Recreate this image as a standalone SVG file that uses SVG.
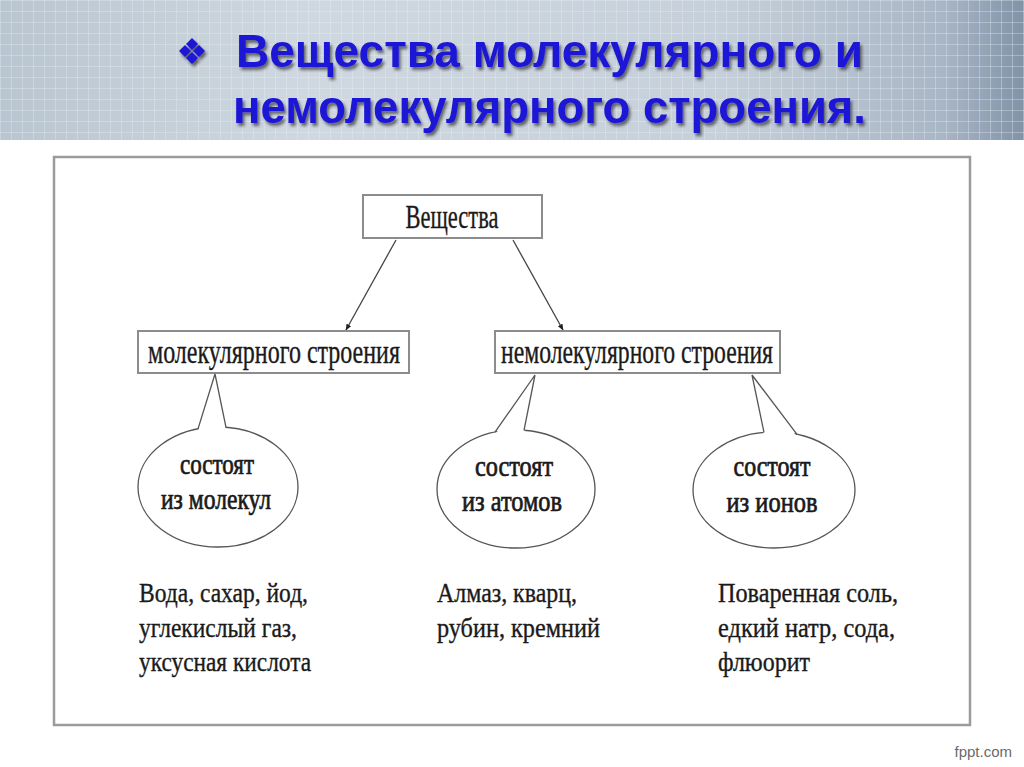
<svg xmlns="http://www.w3.org/2000/svg" width="1024" height="767" viewBox="0 0 1024 767">
<defs>
<linearGradient id="hdr" x1="0" y1="0" x2="1" y2="0">
<stop offset="0" stop-color="#b9c5d0"/>
<stop offset="0.3" stop-color="#cfd8e0"/>
<stop offset="0.7" stop-color="#c6d0da"/>
<stop offset="0.92" stop-color="#a9b6c5"/>
<stop offset="1" stop-color="#8293a8"/>
</linearGradient>
<pattern id="grid" width="11" height="11" patternUnits="userSpaceOnUse">
<path d="M0 0.5H11M0.5 0V11" stroke="#e8eef3" stroke-width="1" opacity="0.35" fill="none"/>
</pattern>
<filter id="sh" x="-5%" y="-20%" width="110%" height="140%">
<feDropShadow dx="2" dy="3" stdDeviation="1.5" flood-color="#222" flood-opacity="0.65"/>
</filter>
<marker id="ah" viewBox="0 0 10 10" refX="9" refY="5" markerWidth="5" markerHeight="5" orient="auto">
<path d="M0 1L10 5L0 9z" fill="#222"/>
</marker>
<style>
.t{font-family:"Liberation Serif","Times New Roman",serif;fill:#1a1a1a;stroke:#1a1a1a;stroke-width:0.35}
.b{stroke-width:0.7}
.box{fill:#fff;stroke:#8c8c8c;stroke-width:2}
.ell{fill:#fff;stroke:#555;stroke-width:1.3}
.tail{fill:none;stroke:#555;stroke-width:1.3;stroke-linejoin:miter}
.con{stroke:#444;stroke-width:1.3;fill:none}
.title{font-family:"Liberation Sans",Arial,sans-serif;font-weight:bold;font-size:46px;fill:#1e12d6}
</style>
</defs>
<rect x="0" y="0" width="1024" height="767" fill="#fff"/>
<g id="header">
<rect x="0" y="0" width="1024" height="140" fill="url(#hdr)"/>
<rect x="0" y="0" width="1024" height="140" fill="url(#grid)"/>
<g filter="url(#sh)">
<g fill="#1e12d6">
<path d="M192 38L198 44L192 50L186 44z"/>
<path d="M185 45L191 51L185 57L179 51z"/>
<path d="M199 45L205 51L199 57L193 51z"/>
<path d="M192 52L198 58L192 64L186 58z"/>
</g>
<text class="title" x="236" y="67" textLength="627" lengthAdjust="spacingAndGlyphs">Вещества молекулярного и</text>
<text class="title" x="233" y="123" textLength="633" lengthAdjust="spacingAndGlyphs">немолекулярного строения.</text>
</g>
</g>
<rect id="frame" x="54" y="157" width="916" height="568" fill="#fff" stroke="#9b9b9b" stroke-width="2.5"/>
<g id="connectors">
<line class="con" x1="396" y1="240" x2="346" y2="330" marker-end="url(#ah)"/>
<line class="con" x1="513" y1="240" x2="563" y2="330" marker-end="url(#ah)"/>
</g>
<g id="n-veshchestva">
<rect class="box" x="363" y="195" width="179" height="43"/>
<text class="t" x="452" y="228" font-size="33" text-anchor="middle" textLength="93" lengthAdjust="spacingAndGlyphs">Вещества</text>
</g>
<g id="n-molecular">
<rect class="box" x="138" y="331" width="271" height="42"/>
<text class="t" x="274" y="363" font-size="33" text-anchor="middle" textLength="252" lengthAdjust="spacingAndGlyphs">молекулярного строения</text>
</g>
<g id="n-nonmolecular">
<rect class="box" x="495" y="331" width="285" height="42"/>
<text class="t" x="637" y="363" font-size="33" text-anchor="middle" textLength="272" lengthAdjust="spacingAndGlyphs">немолекулярного строения</text>
</g>
<g id="n-molecules">
<ellipse class="ell" cx="218" cy="487" rx="80" ry="60"/>
<polygon points="198,431 215,374 226,430" fill="#fff"/>
<polyline class="tail" points="198,428.9 215,374 226,427.3"/>
<text class="t b" x="217" y="474" font-size="29" text-anchor="middle" textLength="74" lengthAdjust="spacingAndGlyphs">состоят</text>
<text class="t b" x="216" y="509" font-size="29" text-anchor="middle" textLength="110" lengthAdjust="spacingAndGlyphs">из молекул</text>
</g>
<g id="n-atoms">
<ellipse class="ell" cx="516" cy="489" rx="79" ry="59"/>
<polygon points="495,435 535,375 524,433" fill="#fff"/>
<polyline class="tail" points="495,432.1 535,375 524,430.3"/>
<text class="t b" x="514" y="476" font-size="29" text-anchor="middle" textLength="78" lengthAdjust="spacingAndGlyphs">состоят</text>
<text class="t b" x="512" y="511" font-size="29" text-anchor="middle" textLength="100" lengthAdjust="spacingAndGlyphs">из атомов</text>
</g>
<g id="n-ions">
<ellipse class="ell" cx="774" cy="490" rx="81" ry="58"/>
<polygon points="764,435 752,375 797,437" fill="#fff"/>
<polyline class="tail" points="764,432.4 752,375 797,434.4"/>
<text class="t b" x="772" y="476" font-size="29" text-anchor="middle" textLength="77" lengthAdjust="spacingAndGlyphs">состоят</text>
<text class="t b" x="772" y="512" font-size="29" text-anchor="middle" textLength="91" lengthAdjust="spacingAndGlyphs">из ионов</text>
</g>
<g id="examples-molecular">
<text class="t" x="139" y="602" font-size="27" textLength="169" lengthAdjust="spacingAndGlyphs">Вода, сахар, йод,</text>
<text class="t" x="139" y="637" font-size="27" textLength="158" lengthAdjust="spacingAndGlyphs">углекислый газ,</text>
<text class="t" x="139" y="671" font-size="27" textLength="172" lengthAdjust="spacingAndGlyphs">уксусная кислота</text>
</g>
<g id="examples-atoms">
<text class="t" x="437" y="602" font-size="27" textLength="140" lengthAdjust="spacingAndGlyphs">Алмаз, кварц,</text>
<text class="t" x="437" y="637" font-size="27" textLength="163" lengthAdjust="spacingAndGlyphs">рубин, кремний</text>
</g>
<g id="examples-ions">
<text class="t" x="718" y="602" font-size="27" textLength="180" lengthAdjust="spacingAndGlyphs">Поваренная соль,</text>
<text class="t" x="718" y="637" font-size="27" textLength="177" lengthAdjust="spacingAndGlyphs">едкий натр, сода,</text>
<text class="t" x="718" y="671" font-size="27" textLength="92" lengthAdjust="spacingAndGlyphs">флюорит</text>
</g>
<text x="1012" y="757" font-family="'Liberation Sans',Arial,sans-serif" font-size="15" fill="#6a6a6a" text-anchor="end">fppt.com</text>
</svg>
